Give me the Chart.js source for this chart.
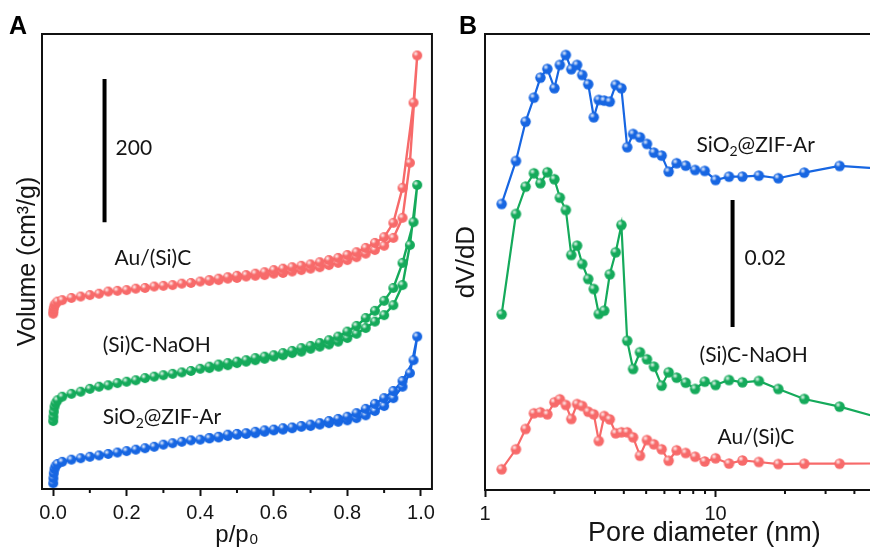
<!DOCTYPE html>
<html><head><meta charset="utf-8">
<script src="https://cdn.jsdelivr.net/npm/chart.js@4.4.1/dist/chart.umd.min.js"></script>
<style>
html,body{margin:0;padding:0;background:#fff;overflow:hidden;width:870px;height:550px;}
#wrap{position:relative;width:870px;height:550px;overflow:hidden;background:#fff;}
#cA{position:absolute;left:0;top:0;}
#cB{position:absolute;left:440px;top:0;}
</style></head><body>
<div id="wrap"><canvas id="cA" width="440" height="550"></canvas><canvas id="cB" width="490" height="550"></canvas></div>
<script>
// ---------- Panel A: N2 isotherms (values include the vertical stacking offset, cm3/g) ----------
const pAds = [0.0005,0.001,0.002,0.004,0.007,0.012,0.025,0.05,0.075,0.1,0.125,0.15,0.175,0.2,0.225,0.25,0.275,0.3,0.325,0.35,0.375,0.4,0.425,0.45,0.475,0.5,0.525,0.55,0.575,0.6,0.625,0.65,0.675,0.7,0.725,0.75,0.775,0.8,0.825,0.85,0.875,0.9,0.925,0.95,0.97,0.99];
const pDes = [0.98,0.95,0.925,0.9,0.875,0.85,0.825,0.8,0.775,0.75,0.725,0.7,0.675,0.65,0.625,0.6,0.575,0.55,0.525,0.5,0.475,0.45,0.425];
const auAds    = [245,249,253,257,259,262,264,267,269,271,273,276,277,278,280,281,283,284,285,287,288,290,291,292,294,295,297,298,299,301,302,304,306,308,310,313,316,320,324,329,334,340,351,379,456,606];
const auDes    = [540,421,372,352,344,337,331,327,323,320,317,314,312,310,308,306,303,301,299,298,296,294,292];
const naohAds  = [95,101,108,115,120,124,129,133,136,140,143,145,148,150,152,155,157,159,161,163,165,168,169,171,173,176,178,180,182,185,187,190,192,196,199,202,206,211,217,225,234,243,257,285,341,425];
const naohDes  = [373,316,281,263,249,239,228,220,213,208,204,200,197,193,190,187,185,183,180,178,176,174,171];
const zifAds   = [8,15,22,28,32,35,38,41,43,45,47,49,51,53,55,57,59,62,64,66,68,69,71,72,74,76,77,78,80,82,83,85,87,88,90,92,94,96,99,103,109,116,127,143,162,213];
const zifDes   = [180,151,137,127,119,112,106,101,98,95,92,90,88,86,85,83,82,80,78,77,76,73,71];
const xTicksA  = [0,0.2,0.4,0.6,0.8,1.0];
const xMinorA  = [0.1,0.3,0.5,0.7,0.9];
const scaleBarA = {x:0.14, from:373, to:573, label:'200'};

// ---------- Panel B: pore size distribution (values include the vertical stacking offset) ----------
const poreDiameter = [1.181,1.362,1.500,1.630,1.739,1.864,2.000,2.112,2.242,2.367,2.509,2.641,2.804,2.964,3.116,3.289,3.477,3.690,3.904,4.137,4.389,4.701,5.039,5.404,5.836,6.258,6.778,7.42,8.15,8.98,10.0,11.44,13.07,15.41,18.71,24.25,34.51,50];
const zifPSD  = [0.04504,0.05181,0.05800,0.06178,0.06493,0.06630,0.06326,0.06693,0.06850,0.06625,0.06693,0.06535,0.06389,0.05869,0.06142,0.06131,0.06115,0.06378,0.06326,0.05397,0.05606,0.05554,0.05449,0.05312,0.05265,0.05013,0.05145,0.05107,0.05039,0.05024,0.04882,0.04934,0.04934,0.04950,0.04909,0.04997,0.05102,0.05065];
const naohPSD = [0.02767,0.04346,0.04776,0.04987,0.04830,0.05003,0.04893,0.04603,0.04409,0.03701,0.03847,0.03559,0.03323,0.03165,0.02772,0.02824,0.03397,0.03743,0.04173,0.02351,0.01906,0.02169,0.02058,0.01942,0.01643,0.01854,0.01769,0.01690,0.01591,0.01706,0.01654,0.01732,0.01696,0.01717,0.01591,0.01433,0.01312,0.01150];
const auPSD   = [0.00326,0.00641,0.00961,0.01208,0.01224,0.01192,0.01381,0.01428,0.01339,0.01118,0.01354,0.01323,0.01233,0.01192,0.00772,0.01165,0.01113,0.00893,0.00909,0.00909,0.00830,0.00540,0.00787,0.00720,0.00641,0.00461,0.00625,0.00583,0.00524,0.00449,0.00499,0.00417,0.00465,0.00441,0.00409,0.00414,0.00414,0.00417];
const xTicksB  = [1,10];
const xMinorB  = [2,3,4,5,6,7,8,9,20,30,40,50,60,70];
const scaleBarB = {x:11.85, from:0.02567, to:0.04567, label:'0.02'};

const RED='#F76A6A', GREEN='#15AA5B', BLUE='#1766E2';
const TXT='#151515';

function bead(color, r){
  const s=Math.ceil(2*r+2), c=document.createElement('canvas'); c.width=s; c.height=s;
  const g=c.getContext('2d'), m=s/2;
  g.beginPath(); g.arc(m,m,r,0,Math.PI*2); g.fillStyle=color; g.fill();
  const hx=m-r*0.3, hy=m-r*0.35;
  const grd=g.createRadialGradient(hx,hy,0,hx,hy,r*0.55);
  grd.addColorStop(0,'rgba(255,255,255,0.95)'); grd.addColorStop(1,'rgba(255,255,255,0)');
  g.fillStyle=grd; g.beginPath(); g.arc(m,m,r,0,Math.PI*2); g.fill();
  return c;
}

function isoDataset(ads, des, color){
  const pts = pAds.map((p,i)=>({x:p,y:ads[i]})).concat(pDes.map((p,i)=>({x:p,y:des[i]})));
  return {data:pts, showLine:true, borderColor:color, borderWidth:2.4, pointStyle:bead(color,5.0), tension:0};
}
function psdDataset(vals, color){
  return {data:poreDiameter.map((d,i)=>({x:d,y:vals[i]})), showLine:true, borderColor:color, borderWidth:2.2, pointStyle:bead(color,5.2), tension:0};
}
function barDataset(b){
  return {data:[{x:b.x,y:b.from},{x:b.x,y:b.to}], showLine:true, borderColor:'#000', borderWidth:4, pointRadius:0, borderCapStyle:'butt'};
}

function drawRich(ctx, x, y, text, size, family){
  // "_2" => subscript 2
  const parts=[]; let buf='';
  for(let i=0;i<text.length;i++){
    if(text[i]==='_' && i+1<text.length){ if(buf) parts.push({t:buf}); buf=''; parts.push({t:text[i+1],sub:true}); i++; }
    else buf+=text[i];
  }
  if(buf) parts.push({t:buf});
  let cx=x;
  parts.forEach(p=>{
    ctx.font=(p.sub?Math.round(size*0.66):size)+'px '+family;
    ctx.fillText(p.t, cx, p.sub? y+size*0.3 : y);
    cx+=ctx.measureText(p.t).width;
  });
}

const framePlugin = {
  id:'frame',
  afterDatasetsDraw(chart, args, opts){
    const {ctx, chartArea:a, scales} = chart;
    ctx.save();
    ctx.strokeStyle='#111'; ctx.lineWidth=2;
    ctx.strokeRect(a.left, a.top, a.right-a.left, a.bottom-a.top);
    ctx.beginPath();
    (opts.minor||[]).forEach(v=>{const px=scales.x.getPixelForValue(v); ctx.moveTo(px,a.bottom); ctx.lineTo(px,a.bottom+4);});
    ctx.stroke();
    ctx.fillStyle=TXT; ctx.textBaseline='middle'; ctx.textAlign='left';
    (opts.labels||[]).forEach(l=>{
      drawRich(ctx, scales.x.getPixelForValue(l.x), scales.y.getPixelForValue(l.y), l.text, 21, 'Lato, "Open Sans", sans-serif');
    });
    if(opts.letter){
      ctx.font='bold 25px "Liberation Sans", Arial, sans-serif'; ctx.textBaseline='alphabetic';
      ctx.fillStyle='#000'; ctx.fillText(opts.letter.t, opts.letter.x, opts.letter.y);
    }
    ctx.restore();
  }
};

const tickFont={family:'"Liberation Sans", Arial, sans-serif', size:20};

new Chart(document.getElementById('cA'), {
  type:'scatter',
  data:{datasets:[isoDataset(auAds,auDes,RED), isoDataset(naohAds,naohDes,GREEN), isoDataset(zifAds,zifDes,BLUE), barDataset(scaleBarA)]},
  options:{
    responsive:false, animation:false, devicePixelRatio:1,
    layout:{padding:{top:34,right:5,left:0,bottom:0}},
    plugins:{legend:{display:false}, tooltip:{enabled:false},
      frame:{minor:xMinorA, letter:{t:'A',x:9,y:34},
        labels:[{x:0.167,y:323,text:'Au/(Si)C'},{x:0.135,y:201,text:'(Si)C-NaOH'},{x:0.135,y:101,text:'SiO_2@ZIF-Ar'},{x:0.17,y:477,text:scaleBarA.label}]}},
    scales:{
      x:{type:'linear', min:-0.03, max:1.03,
        afterBuildTicks:s=>{s.ticks=xTicksA.map(v=>({value:v}));},
        afterFit:s=>{s.height=61;},
        ticks:{font:tickFont, color:TXT, padding:5, autoSkip:false, maxRotation:0, callback:v=>Number(v).toFixed(1)},
        grid:{display:true, drawOnChartArea:false, drawTicks:true, tickLength:7, tickWidth:2, tickColor:'#111'},
        border:{display:false},
        title:{display:true, text:'p/p₀', font:{family:'"Liberation Sans", Arial, sans-serif', size:24}, color:TXT, padding:{top:0,bottom:0}}},
      y:{type:'linear', min:0, max:636,
        afterFit:s=>{s.width=42;},
        ticks:{display:false}, grid:{display:false}, border:{display:false},
        title:{display:true, text:'Volume (cm³/g)', font:{family:'"Liberation Sans", Arial, sans-serif', size:25}, color:TXT, padding:{top:13,bottom:0}}}
    }
  },
  plugins:[framePlugin]
});

new Chart(document.getElementById('cB'), {
  type:'scatter',
  data:{datasets:[psdDataset(zifPSD,BLUE), psdDataset(naohPSD,GREEN), psdDataset(auPSD,RED), barDataset(scaleBarB)]},
  options:{
    responsive:false, animation:false, devicePixelRatio:1,
    layout:{padding:{top:34,right:5,left:0,bottom:0}},
    plugins:{legend:{display:false}, tooltip:{enabled:false},
      frame:{minor:xMinorB, letter:{t:'B',x:19,y:34},
        labels:[{x:8.27,y:0.0543,text:'SiO_2@ZIF-Ar'},{x:8.52,y:0.02126,text:'(Si)C-NaOH'},{x:10.2,y:0.00835,text:'Au/(Si)C'},{x:13.35,y:0.03654,text:scaleBarB.label}]}},
    scales:{
      x:{type:'logarithmic', min:1, max:80,
        afterBuildTicks:s=>{s.ticks=xTicksB.map(v=>({value:v}));},
        afterFit:s=>{s.height=60;},
        ticks:{font:tickFont, color:TXT, padding:5, autoSkip:false, maxRotation:0, callback:v=>String(v)},
        grid:{display:true, drawOnChartArea:false, drawTicks:true, tickLength:7, tickWidth:2, tickColor:'#111'},
        border:{display:false},
        title:{display:true, text:'Pore diameter (nm)', font:{family:'"Liberation Sans", Arial, sans-serif', size:27}, color:TXT, padding:{top:0,bottom:0}}},
      y:{type:'linear', min:0, max:0.0718,
        afterFit:s=>{s.width=45;},
        ticks:{display:false}, grid:{display:false}, border:{display:false},
        title:{display:true, text:'dV/dD', font:{family:'"Liberation Sans", Arial, sans-serif', size:26}, color:TXT, padding:{top:11,bottom:0}}}
    }
  },
  plugins:[framePlugin]
});
</script>
</body></html>
